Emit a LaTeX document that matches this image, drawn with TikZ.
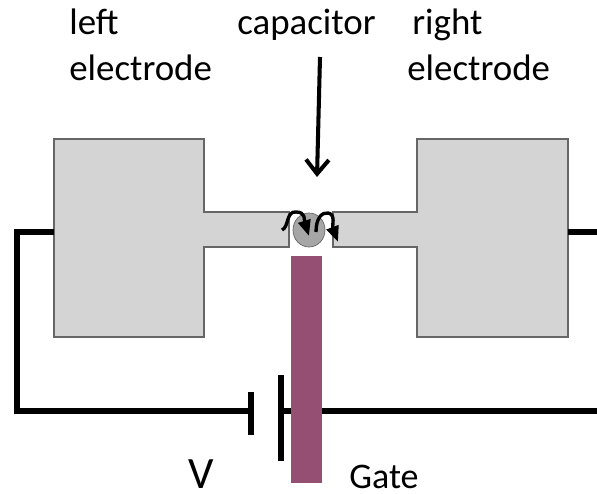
\documentclass[tikz,border=0pt]{standalone}
\usepackage{fontspec}
\setmainfont{Carlito}
\usepackage{tikz}
\usetikzlibrary{arrows.meta,positioning,calc,shapes.geometric}
\definecolor{padgray}{HTML}{D4D4D4}
\definecolor{gatepurple}{HTML}{954F72}
\tikzset{
  padfill/.style={fill=padgray, draw=black!60, line width=0.8pt},
  wire/.style={black, line width=3.6pt},
  plate/.style={black, line width=3.4pt},
  hop/.style={black, line width=1.9pt, -{Stealth[length=9pt,width=7pt,inset=0pt]}},
  lbl/.style={anchor=base west, font=\fontsize{21}{22}\selectfont, inner sep=0pt},
}
\begin{document}
\begin{tikzpicture}[x=0.02cm,y=-0.02cm]
  \useasboundingbox (0,0) rectangle (597,493);

  % electrodes
  \draw[padfill] (289,247)--(289,212)--(204,212)--(204,139)--(54,139)--(54,337)--(204,337)--(204,247)--cycle;
  \draw[padfill] (333,247)--(333,212)--(417,212)--(417,139)--(568,139)--(568,337)--(417,337)--(417,247)--cycle;

  % dot
  \node[ellipse, draw=black!60, fill=black!35, inner sep=0pt, minimum width=0.64cm, minimum height=0.68cm] (dot) at (309,230) {};
  \draw[hop] (282,230) .. controls (289,227) and (286,211) .. (296,212) .. controls (306,212) and (304,220) .. (309,236);
  \draw[hop] (316,232) .. controls (316,218) and (322,212) .. (328,213) .. controls (336,214) and (332,226) .. (338,242);

  % gate
  \fill[gatepurple] (291,256) rectangle (322,483);

  % circuit
  \coordinate (leftend) at (54,232);
  \coordinate (leftcorner) at (17,232);
  \coordinate (leftbottom) at (17,411);
  \coordinate (plateL) at (251,411);
  \coordinate (plateR) at (281,411);
  \coordinate (rightstart) at (568,232);
  \coordinate (rightend) at (597,232);
  \coordinate (bottomend) at (597,411);
  \coordinate (gateleft) at (291,411);
  \coordinate (gateright) at (322,411);
  \draw[wire] (leftend)--(leftcorner)--(leftbottom)--(plateL);
  \draw[wire] (rightstart)--(rightend);
  \draw[wire] (plateR)--(gateleft);
  \draw[wire] (gateright)--(bottomend);
  \draw[plate] (251,392)--(251,435);
  \draw[plate] (281,375)--(281,461);

  % capacitor arrow
  \coordinate (arrowtop) at (320,57);
  \coordinate (arrowtip) at (317,177);
  \draw[black, line width=2.3pt, -{Straight Barb[length=8pt,width=13pt]}] (arrowtop)--(arrowtip);

  % labels
  \node[lbl] (leftA) at (69,35) {left};
  \node[lbl] (leftB) at (69,81) {electrode};
  \node[lbl] (cap) at (237,35) {capacitor};
  \node[lbl] (rightA) at (412,35) {right};
  \node[lbl] (rightB) at (407,81) {electrode};
  \node[lbl, font=\fontsize{25.5}{26}\selectfont] (volt) at (188,488) {V};
  \node[lbl, font=\fontsize{20.5}{21}\selectfont] (gate) at (349,488) {Gate};
\end{tikzpicture}
\end{document}
